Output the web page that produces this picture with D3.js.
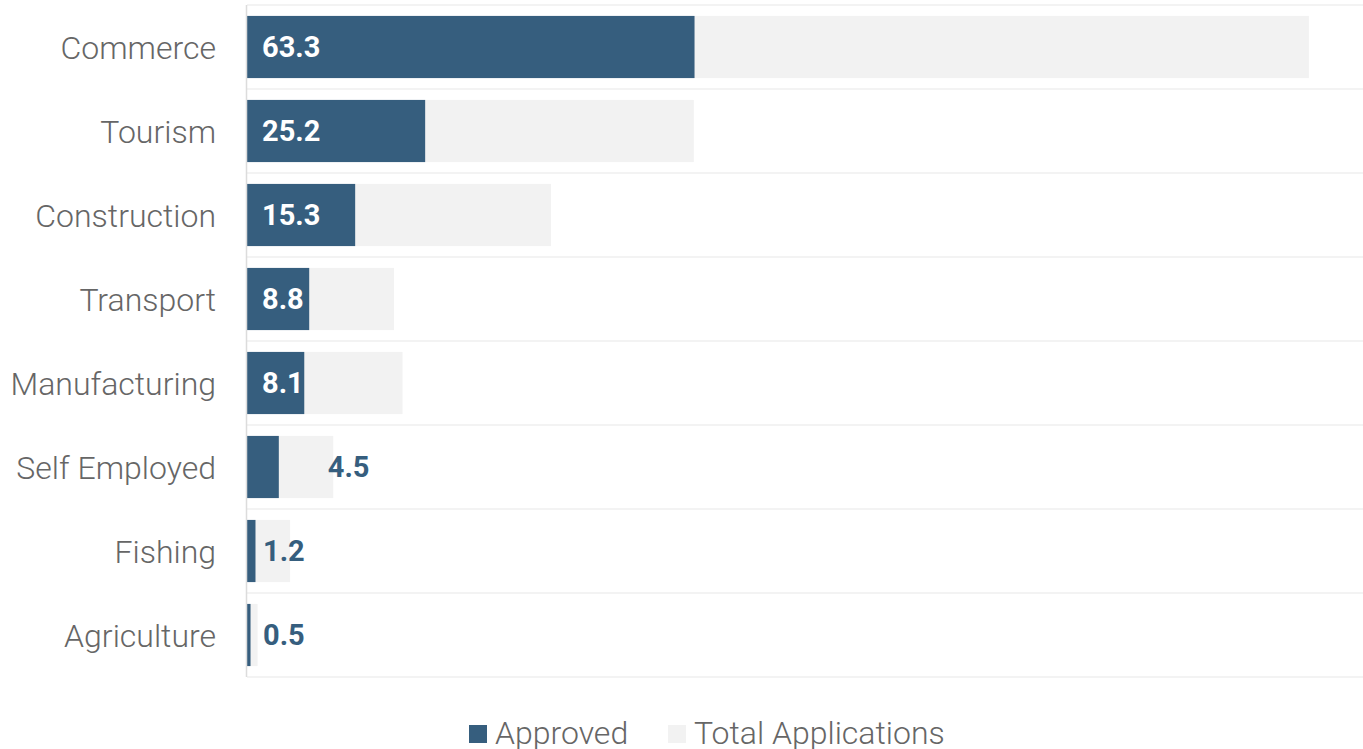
<!DOCTYPE html>
<html>
<head>
<meta charset="utf-8">
<script src="https://cdn.jsdelivr.net/npm/d3@7"></script>
<style>
  body { margin: 0; background: #fff; font-family: Roboto, sans-serif; }
  .cat { font-weight: 300; fill: #666; font-size: 32px; }
  .val { font-weight: 700; font-size: 29px; }
  .leg { font-weight: 300; fill: #666; font-size: 32px; }
</style>
</head>
<body>
<div id="chart"></div>
<script>
  var categories = ["Commerce", "Tourism", "Construction", "Transport",
                    "Manufacturing", "Self Employed", "Fishing", "Agriculture"];
  var approved = [63.3, 25.2, 15.3, 8.8, 8.1, 4.5, 1.2, 0.5];
  var totalApplications = [150.2, 63.2, 43.0, 20.8, 22.0, 12.2, 6.1, 1.5];
  var seriesNames = ["Approved", "Total Applications"];
  var colors = ["#365e7e", "#f2f2f2"];

  var width = 1363, height = 749;
  var margin = {top: 5, left: 247, right: 1, bottom: 72};

  var svg = d3.select("#chart").append("svg")
      .attr("width", width)
      .attr("height", height);

  var x = d3.scaleLinear()
      .domain([0, d3.max(totalApplications) * 1.05])
      .range([margin.left, width - margin.right]);

  var y = d3.scaleBand()
      .domain(categories)
      .range([margin.top, height - margin.bottom])
      .paddingInner(0.26)
      .paddingOuter(0.13);

  var step = y.step();

  // horizontal grid lines between bands
  svg.append("g").selectAll("line")
      .data(d3.range(categories.length + 1))
      .join("line")
      .attr("x1", margin.left)
      .attr("x2", width)
      .attr("y1", function (i) { return margin.top + i * step; })
      .attr("y2", function (i) { return margin.top + i * step; })
      .attr("stroke", "#f3f3f3")
      .attr("stroke-width", 2);

  // total bars (background)
  svg.append("g").selectAll("rect")
      .data(categories)
      .join("rect")
      .attr("x", x(0))
      .attr("y", function (d) { return y(d); })
      .attr("width", function (d, i) { return x(totalApplications[i]) - x(0); })
      .attr("height", y.bandwidth())
      .attr("fill", colors[1]);

  // approved bars
  svg.append("g").selectAll("rect")
      .data(categories)
      .join("rect")
      .attr("x", x(0))
      .attr("y", function (d) { return y(d); })
      .attr("width", function (d, i) { return x(approved[i]) - x(0); })
      .attr("height", y.bandwidth())
      .attr("fill", colors[0]);

  // axis line
  svg.append("line")
      .attr("x1", margin.left - 0.5).attr("x2", margin.left - 0.5)
      .attr("y1", margin.top).attr("y2", height - margin.bottom)
      .attr("stroke", "#dcdcdc")
      .attr("stroke-width", 1.5);

  // category labels
  svg.append("g").selectAll("text")
      .data(categories)
      .join("text")
      .attr("class", "cat")
      .attr("x", margin.left - 31)
      .attr("y", function (d) { return y(d) + y.bandwidth() / 2; })
      .attr("dy", "0.36em")
      .attr("text-anchor", "end")
      .text(function (d) { return d; });

  // value labels: inside the bar when it fits, else beside it
  svg.append("g").selectAll("text")
      .data(categories)
      .join("text")
      .attr("class", "val")
      .attr("y", function (d) { return y(d) + y.bandwidth() / 2; })
      .attr("dy", "0.36em")
      .each(function (d, i) {
        var t = d3.select(this).text(approved[i].toFixed(1));
        var w = this.getComputedTextLength();
        var barW = x(approved[i]) - x(0);
        if (barW >= w + 8) {
          t.attr("x", x(0) + 15).attr("fill", "#fff");
        } else if (barW < 15) {
          t.attr("x", x(0) + 16).attr("fill", colors[0]);
        } else {
          t.attr("x", x(approved[i]) + 49).attr("fill", colors[0]);
        }
      });

  // legend
  var legend = svg.append("g");
  var legX = [469, 668];
  seriesNames.forEach(function (name, i) {
    legend.append("rect")
        .attr("x", legX[i]).attr("y", 725)
        .attr("width", 18).attr("height", 18)
        .attr("fill", colors[i]);
    legend.append("text")
        .attr("class", "leg")
        .attr("x", legX[i] + 26)
        .attr("y", 744)
        .text(name);
  });
</script>
</body>
</html>
